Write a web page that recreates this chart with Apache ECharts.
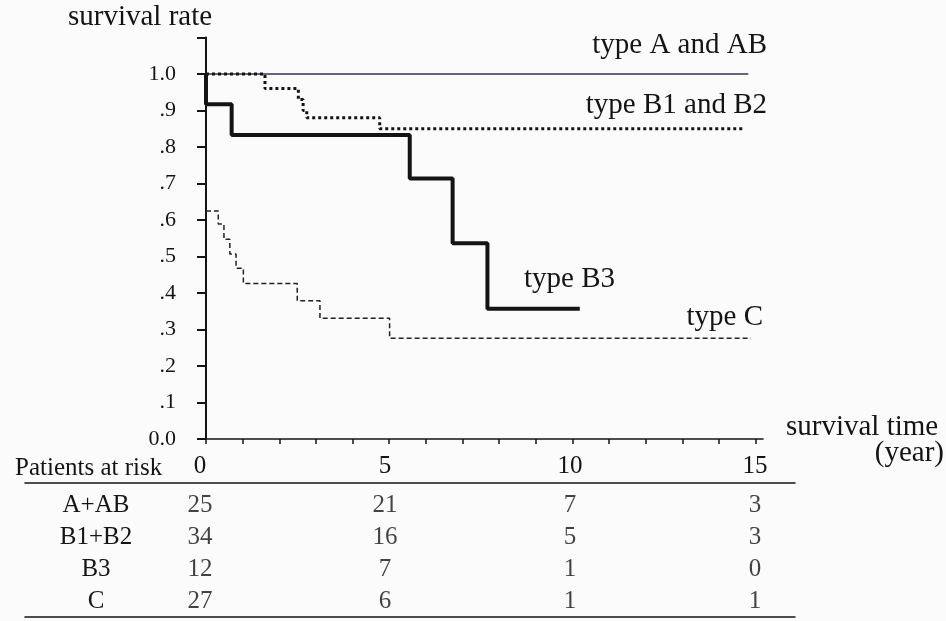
<!DOCTYPE html>
<html>
<head>
<meta charset="utf-8">
<script src="https://cdn.jsdelivr.net/npm/echarts@6/dist/echarts.min.js"></script>
<style>
html,body{margin:0;padding:0;background:#fbfbfb;}
#c{width:946px;height:621px;}
</style>
</head>
<body>
<div id="c"></div>
<script>
// ---- data ----
const yTickLabels = ['0.0', '.1', '.2', '.3', '.4', '.5', '.6', '.7', '.8', '.9', '1.0', ''];
const xTickYears = [0,1,2,3,4,5,6,7,8,9,10,11,12,13,14,15];
const riskYears = [0, 5, 10, 15];
const groups = ['A+AB', 'B1+B2', 'B3', 'C'];
const riskAAB = [25, 21, 7, 3];
const riskB1B2 = [34, 16, 5, 3];
const riskB3 = [12, 7, 1, 0];
const riskC = [27, 6, 1, 1];

const tA = [0, 14.8];
const sA = [1, 1];
const tB12 = [0, 1.61, 2.52, 2.65, 2.75, 4.74, 14.7];
const sB12 = [1, 0.96, 0.93, 0.90, 0.88, 0.85, 0.85];
const tB3 = [0, 0, 0.7, 5.56, 6.73, 7.68, 10.2];
const sB3 = [1, 0.917, 0.833, 0.714, 0.536, 0.357, 0.357];
const tC = [0, 0.335, 0.49, 0.65, 0.82, 1.02, 2.49, 3.11, 5.01, 14.87];
const sC = [0.625, 0.589, 0.547, 0.507, 0.468, 0.426, 0.379, 0.331, 0.276, 0.276];

// ---- build ----
const pair = (t, s) => t.map((x, i) => [x, s[i]]);
const riskRows = [riskAAB, riskB1B2, riskB3, riskC];
const tableData = [];
riskRows.forEach((row, gi) => row.forEach((n, yi) => tableData.push([riskYears[yi], groups[gi], n])));

const SERIF = '"Liberation Serif", "DejaVu Serif", serif';
const INK = '#141414';

const chart = echarts.init(document.getElementById('c'), null, {renderer: 'canvas'});
function txt(text, x, y, align, size) {
  return {type: 'text', x: x, y: y, silent: true,
    style: {text: text, font: size + 'px ' + SERIF, fill: INK, align: align, verticalAlign: 'middle'}};
}
chart.setOption({
  backgroundColor: '#fbfbfb',
  animation: false,
  grid: [
    {left: 206, top: 37.5, width: 557, height: 401.5},
    {left: 25, right: 151, top: 490, height: 127}
  ],
  xAxis: [
    {gridIndex: 0, type: 'value', min: 0, max: 15.2,
     axisLine: {show: true, lineStyle: {color: INK, width: 1.6}},
     axisTick: {show: true, customValues: xTickYears, length: 5, lineStyle: {color: INK, width: 1.5}},
     axisLabel: {show: false}, splitLine: {show: false}},
    {gridIndex: 1, type: 'value', position: 'top', offset: 7, min: -175 / 37, max: 15 + 40 / 37,
     axisLine: {show: true, lineStyle: {color: INK, width: 1.5}},
     axisTick: {show: false}, splitLine: {show: false},
     axisLabel: {show: true, customValues: riskYears, margin: 4, color: INK, fontFamily: SERIF, fontSize: 25,
       formatter: v => String(Math.round(v))}},
    {gridIndex: 1, type: 'value', position: 'bottom', min: -175 / 37, max: 15 + 40 / 37,
     axisLine: {show: true, lineStyle: {color: INK, width: 1.5}},
     axisTick: {show: false}, axisLabel: {show: false}, splitLine: {show: false}}
  ],
  yAxis: [
    {gridIndex: 0, type: 'value', min: 0, max: 1.1, interval: 0.1,
     axisLine: {show: true, lineStyle: {color: INK, width: 2}},
     axisTick: {show: true, length: 9, lineStyle: {color: INK, width: 2}},
     splitLine: {show: false},
     axisLabel: {margin: 30, color: INK, fontFamily: SERIF, fontSize: 22,
       formatter: (v) => yTickLabels[Math.round(v * 10)]}},
    {gridIndex: 1, type: 'category', data: groups, inverse: true,
     axisLine: {show: false}, axisTick: {show: false}, splitLine: {show: false},
     axisLabel: {inside: true, interval: 0, align: 'center', margin: 71, color: INK, fontFamily: SERIF, fontSize: 25}}
  ],
  series: [
    {type: 'line', xAxisIndex: 0, yAxisIndex: 0, data: pair(tA, sA), step: 'end', symbol: 'none',
     lineStyle: {color: '#3a3152', width: 1.6}},
    {type: 'line', xAxisIndex: 0, yAxisIndex: 0, data: pair(tB12, sB12), step: 'end', symbol: 'none',
     lineStyle: {color: INK, width: 3, type: [3, 3]}},
    {type: 'line', xAxisIndex: 0, yAxisIndex: 0, data: pair(tB3, sB3), step: 'end', symbol: 'none',
     lineStyle: {color: INK, width: 4}},
    {type: 'line', xAxisIndex: 0, yAxisIndex: 0, data: pair(tC, sC), step: 'end', symbol: 'none',
     lineStyle: {color: '#222', width: 1.5, type: [5, 3]}},
    {type: 'scatter', xAxisIndex: 1, yAxisIndex: 1, data: tableData, symbolSize: 1,
     itemStyle: {color: 'rgba(0,0,0,0)'},
     label: {show: true, position: 'inside', color: INK, fontFamily: SERIF, fontSize: 25,
       formatter: p => String(p.value[2])}}
  ],
  graphic: [
    txt('survival rate', 68, 17, 'left', 29),
    txt('type A and AB', 767, 45, 'right', 29),
    txt('type B1 and B2', 767, 105, 'right', 29),
    txt('type B3', 524, 279, 'left', 29),
    txt('type C', 763, 317, 'right', 29),
    txt('survival time', 786, 427, 'left', 29),
    txt('(year)', 944, 453, 'right', 29),
    txt('Patients at risk', 15, 468.5, 'left', 25)
  ]
});
</script>
</body>
</html>
